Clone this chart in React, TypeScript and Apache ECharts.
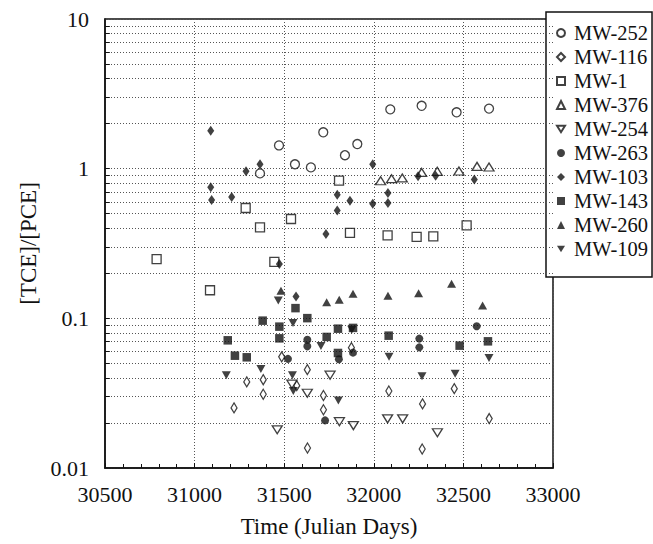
import React, { useEffect, useRef } from "react";
import * as echarts from "echarts";

// ---- data (Julian day, [TCE]/[PCE]) ----
const seriesNames = ["MW-252", "MW-116", "MW-1", "MW-376", "MW-254", "MW-263", "MW-103", "MW-143", "MW-260", "MW-109"];

const mw252X = [31365, 31471, 31560, 31649, 31718, 31839, 31908, 32092, 32267, 32462, 32643];
const mw252Y = [0.93, 1.43, 1.07, 1.02, 1.75, 1.23, 1.46, 2.49, 2.63, 2.38, 2.52];

const mw116X = [31220, 31291, 31383, 31383, 31486, 31570, 31629, 31630, 31719, 31719, 31875, 32084, 32272, 32270, 32449, 32644];
const mw116Y = [0.0252, 0.0376, 0.0389, 0.0311, 0.0553, 0.0355, 0.0454, 0.0136, 0.0305, 0.0245, 0.0637, 0.0327, 0.0268, 0.0134, 0.0339, 0.0214];

const mw1X = [30788, 31086, 31285, 31365, 31445, 31538, 31806, 31867, 32077, 32239, 32332, 32518];
const mw1Y = [0.249, 0.154, 0.546, 0.405, 0.238, 0.461, 0.832, 0.372, 0.358, 0.35, 0.353, 0.418];

const mw376X = [32038, 32099, 32159, 32267, 32354, 32475, 32576, 32643];
const mw376Y = [0.83, 0.857, 0.867, 0.944, 0.96, 0.965, 1.036, 1.026];

const mw254X = [31461, 31543, 31629, 31756, 31808, 31886, 32077, 32161, 32355];
const mw254Y = [0.018, 0.0363, 0.0316, 0.0417, 0.0204, 0.0192, 0.0213, 0.0213, 0.0172];

const mw263X = [31521, 31629, 31629, 31728, 31805, 31884, 32254, 32254, 32574];
const mw263Y = [0.0536, 0.072, 0.065, 0.0208, 0.0533, 0.059, 0.0732, 0.064, 0.0885];

const mw103X = [31090, 31090, 31095, 31207, 31287, 31365, 31473, 31566, 31733, 31796, 31796, 31867, 31994, 31994, 32079, 32079, 32247, 32345, 32561];
const mw103Y = [1.79, 0.75, 0.618, 0.647, 0.96, 1.07, 0.231, 0.14, 0.366, 0.67, 0.526, 0.61, 1.07, 0.583, 0.689, 0.59, 0.889, 0.898, 0.845];

const mw143X = [31185, 31225, 31291, 31380, 31473, 31473, 31563, 31629, 31737, 31800, 31800, 31884, 32083, 32479, 32637];
const mw143Y = [0.0713, 0.0563, 0.0549, 0.0965, 0.088, 0.0735, 0.117, 0.1003, 0.0751, 0.0853, 0.0587, 0.0863, 0.0766, 0.0657, 0.0702];

const mw260X = [31482, 31737, 31807, 31884, 32079, 32250, 32434, 32607];
const mw260Y = [0.153, 0.128, 0.133, 0.146, 0.1418, 0.147, 0.17, 0.1216];

const mw109X = [31177, 31370, 31467, 31549, 31546, 31551, 31705, 31802, 31877, 32085, 32269, 32454, 32643];
const mw109Y = [0.0416, 0.0459, 0.1317, 0.0929, 0.0416, 0.0327, 0.0654, 0.0282, 0.084, 0.0553, 0.041, 0.0426, 0.0544];

const xTicks = [30500, 31000, 31500, 32000, 32500, 33000];
const yMinorValues = [0.02, 0.03, 0.04, 0.05, 0.06, 0.07, 0.08, 0.09, 0.2, 0.3, 0.4, 0.5, 0.6, 0.7, 0.8, 0.9, 2, 3, 4, 5, 6, 7, 8, 9];
const yTickValues = [0.02, 0.03, 0.04, 0.05, 0.06, 0.07, 0.08, 0.09, 0.1, 0.2, 0.3, 0.4, 0.5, 0.6, 0.7, 0.8, 0.9, 1, 2, 3, 4, 5, 6, 7, 8, 9];

const FONT = "'Liberation Serif', 'Times New Roman', Times, serif";
const INK = "#111";
const TRI_DOWN = "path://M0,0L10,0L5,8Z";

function pairs(xs: number[], ys: number[]) {
  return xs.map((x, i) => [x, ys[i]]);
}

export default function App() {
  const ref = useRef<HTMLDivElement>(null);
  useEffect(() => {
    if (!ref.current) return;
    const chart = echarts.init(ref.current, undefined, { renderer: "svg" });

    const open = { color: "#fff", borderColor: INK, borderWidth: 1.3 };
    const filled = { color: INK, borderColor: INK, borderWidth: 0 };

    const defs: any[] = [
      { name: "MW-252", x: mw252X, y: mw252Y, symbol: "circle", size: 9, style: open, icon: "circle", iconSize: 9 },
      { name: "MW-116", x: mw116X, y: mw116Y, symbol: "diamond", size: [6, 10], style: open, icon: "diamond", iconSize: 7 },
      { name: "MW-1", x: mw1X, y: mw1Y, symbol: "rect", size: 9, style: open, icon: "rect", iconSize: 8 },
      { name: "MW-376", x: mw376X, y: mw376Y, symbol: "triangle", size: [10, 8], style: open, icon: "triangle", iconSize: 7 },
      { name: "MW-254", x: mw254X, y: mw254Y, symbol: TRI_DOWN, size: [10, 8], style: open, icon: TRI_DOWN, iconSize: 7 },
      { name: "MW-263", x: mw263X, y: mw263Y, symbol: "circle", size: 8, style: filled, icon: "circle", iconSize: 10 },
      { name: "MW-103", x: mw103X, y: mw103Y, symbol: "diamond", size: [7, 10], style: filled, icon: "diamond", iconSize: 7 },
      { name: "MW-143", x: mw143X, y: mw143Y, symbol: "rect", size: 8.5, style: filled, icon: "rect", iconSize: 8 },
      { name: "MW-260", x: mw260X, y: mw260Y, symbol: "triangle", size: [9, 8], style: filled, icon: "triangle", iconSize: 7 },
      { name: "MW-109", x: mw109X, y: mw109Y, symbol: TRI_DOWN, size: [9, 8], style: filled, icon: TRI_DOWN, iconSize: 7 },
    ];

    const series: any[] = defs.map((d) => ({
      type: "scatter",
      name: d.name,
      data: pairs(d.x, d.y),
      symbol: d.symbol,
      symbolSize: d.size,
      itemStyle: d.style,
      emphasis: { disabled: true },
      z: 5,
    }));

    // minor horizontal grid lines (log decades 2..9)
    series.push({
      type: "scatter",
      name: "_grid",
      data: [],
      silent: true,
      z: 1,
      markLine: {
        silent: true,
        symbol: ["none", "none"],
        label: { show: false },
        lineStyle: { color: "#555", type: [1, 2], width: 1 },
        data: yMinorValues.map((v) => ({ yAxis: v })),
      },
    });
    // inward ticks on left axis
    series.push({
      type: "scatter",
      name: "_ticks",
      data: [],
      silent: true,
      z: 3,
      markLine: {
        silent: true,
        symbol: ["none", "none"],
        label: { show: false },
        lineStyle: { color: INK, type: "solid", width: 1 },
        data: yTickValues.map((v) => [{ coord: [30500, v] }, { coord: [30527, v] }]),
      },
    });

    chart.setOption({
      animation: false,
      backgroundColor: "#fff",
      textStyle: { fontFamily: FONT },
      grid: {
        left: 105,
        right: 100,
        top: 19,
        bottom: 76,
        show: true,
        borderColor: INK,
        borderWidth: 1.5,
        backgroundColor: "transparent",
      },
      legend: {
        data: defs.map((d) => ({ name: d.name, icon: d.icon })),
        orient: "vertical",
        left: 546,
        top: 12,
        padding: [9, 4, 16, 10],
        itemGap: 0,
        itemWidth: 8,
        itemHeight: 8,
        backgroundColor: "#fff",
        borderColor: INK,
        borderWidth: 1.5,
        borderRadius: 0,
        selectedMode: false,
        textStyle: { fontFamily: FONT, fontSize: 20.5, color: INK, lineHeight: 24, padding: [0, 0, 0, 4] },
      },
      xAxis: {
        type: "value",
        min: xTicks[0],
        max: xTicks[xTicks.length - 1],
        interval: 500,
        name: "Time (Julian Days)",
        nameLocation: "middle",
        nameGap: 47,
        nameTextStyle: { fontFamily: FONT, fontSize: 23, color: INK },
        axisLine: { show: true, lineStyle: { color: INK, width: 1.5 } },
        axisTick: { show: true, inside: true, length: 5, lineStyle: { color: INK } },
        minorTick: { show: true, splitNumber: 5, length: 4, lineStyle: { color: INK } },
        axisLabel: { fontFamily: FONT, fontSize: 22, color: INK, margin: 15, formatter: (v: number) => String(v) },
        splitLine: { show: true, lineStyle: { color: "#555", type: [1, 2], width: 1 } },
      },
      yAxis: {
        type: "log",
        logBase: 10,
        min: 0.01,
        max: 10,
        name: "[TCE]/[PCE]",
        nameLocation: "middle",
        nameGap: 55,
        nameTextStyle: { fontFamily: FONT, fontSize: 23, color: INK },
        axisLine: { show: true, lineStyle: { color: INK, width: 1.5 } },
        axisTick: { show: false },
        axisLabel: {
          fontFamily: FONT,
          fontSize: 22,
          color: INK,
          margin: 16,
          formatter: (v: number) => String(Number(v.toPrecision(2))),
        },
        splitLine: { show: true, lineStyle: { color: "#555", type: [1, 2], width: 1 } },
      },
      series,
    });

    return () => chart.dispose();
  }, []);

  return <div ref={ref} style={{ width: 653, height: 544, position: "absolute", left: 0, top: 0 }} />;
}
